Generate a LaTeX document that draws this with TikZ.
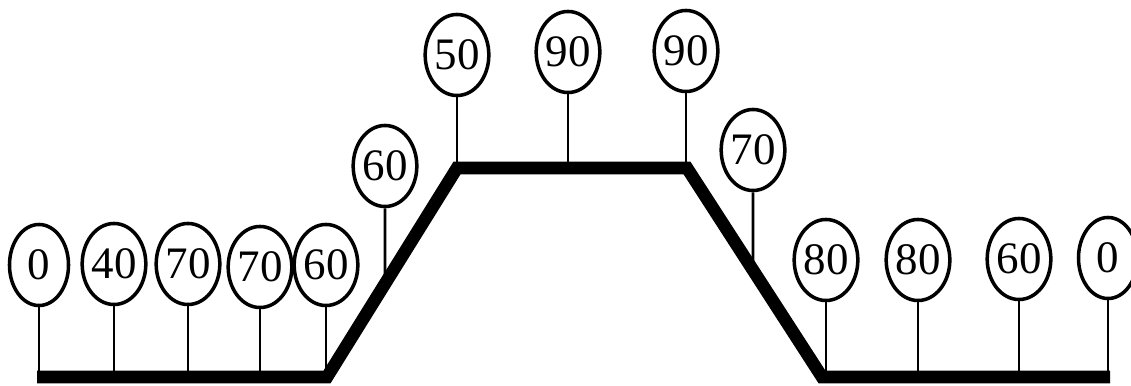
\documentclass[tikz,border=0pt]{standalone}
\usepackage{fontspec}
\setmainfont{Liberation Serif}
\usetikzlibrary{shapes.geometric}
\begin{document}
\begin{tikzpicture}[x=0.01cm,y=-0.01cm,
  tag/.style={ellipse,draw,line width=1pt,inner sep=0pt,
    minimum width=0.59cm,minimum height=0.81cm,font=\fontsize{12.8}{12.8}\selectfont},
  stem/.style={line width=0.8pt},
  track/.style={line width=3.6pt,line join=miter,line cap=butt}]
\clip (0,0) rectangle (1131,385);
\useasboundingbox (0,0) rectangle (1131,385);
% corners of the thick track
\coordinate (p0) at (37,377);
\coordinate (p1) at (327,377);
\coordinate (p2) at (457,168);
\coordinate (p3) at (687,168);
\coordinate (p4) at (822,377);
\coordinate (p5) at (1110,377);
% labelled tags
\node[tag] (a1) at (39,265) {0};
\node[tag] (a2) at (114,264) {40};
\node[tag] (a3) at (188,264) {70};
\node[tag] (a4) at (260,267) {70};
\node[tag] (a5) at (326,265) {60};
\node[tag] (a6) at (385,166) {60};
\node[tag] (a7) at (457,55) {50};
\node[tag] (a8) at (568,52) {90};
\node[tag] (a9) at (686,51) {90};
\node[tag] (a10) at (753,150) {70};
\node[tag] (a11) at (826,260) {80};
\node[tag] (a12) at (918,260) {80};
\node[tag] (a13) at (1019,259) {60};
\node[tag] (a14) at (1108,258) {0};
% stems down to the track
\foreach \n in {a1,a2,a3,a4,a5,a11,a12,a13,a14}
  \draw[stem] (\n.south) -- (\n.south |- p0);
\foreach \n in {a7,a8,a9}
  \draw[stem] (\n.south) -- (\n.south |- p2);
\draw[stem] (a6.south) -- (intersection cs: first line={(a6.south)--(a6.south|-p0)}, second line={(p1)--(p2)});
\draw[stem] (a10.south) -- (intersection cs: first line={(a10.south)--(a10.south|-p0)}, second line={(p3)--(p4)});
% the track
\draw[track] (p0) -- (p1) -- (p2) -- (p3) -- (p4) -- (p5);
\end{tikzpicture}
\end{document}
